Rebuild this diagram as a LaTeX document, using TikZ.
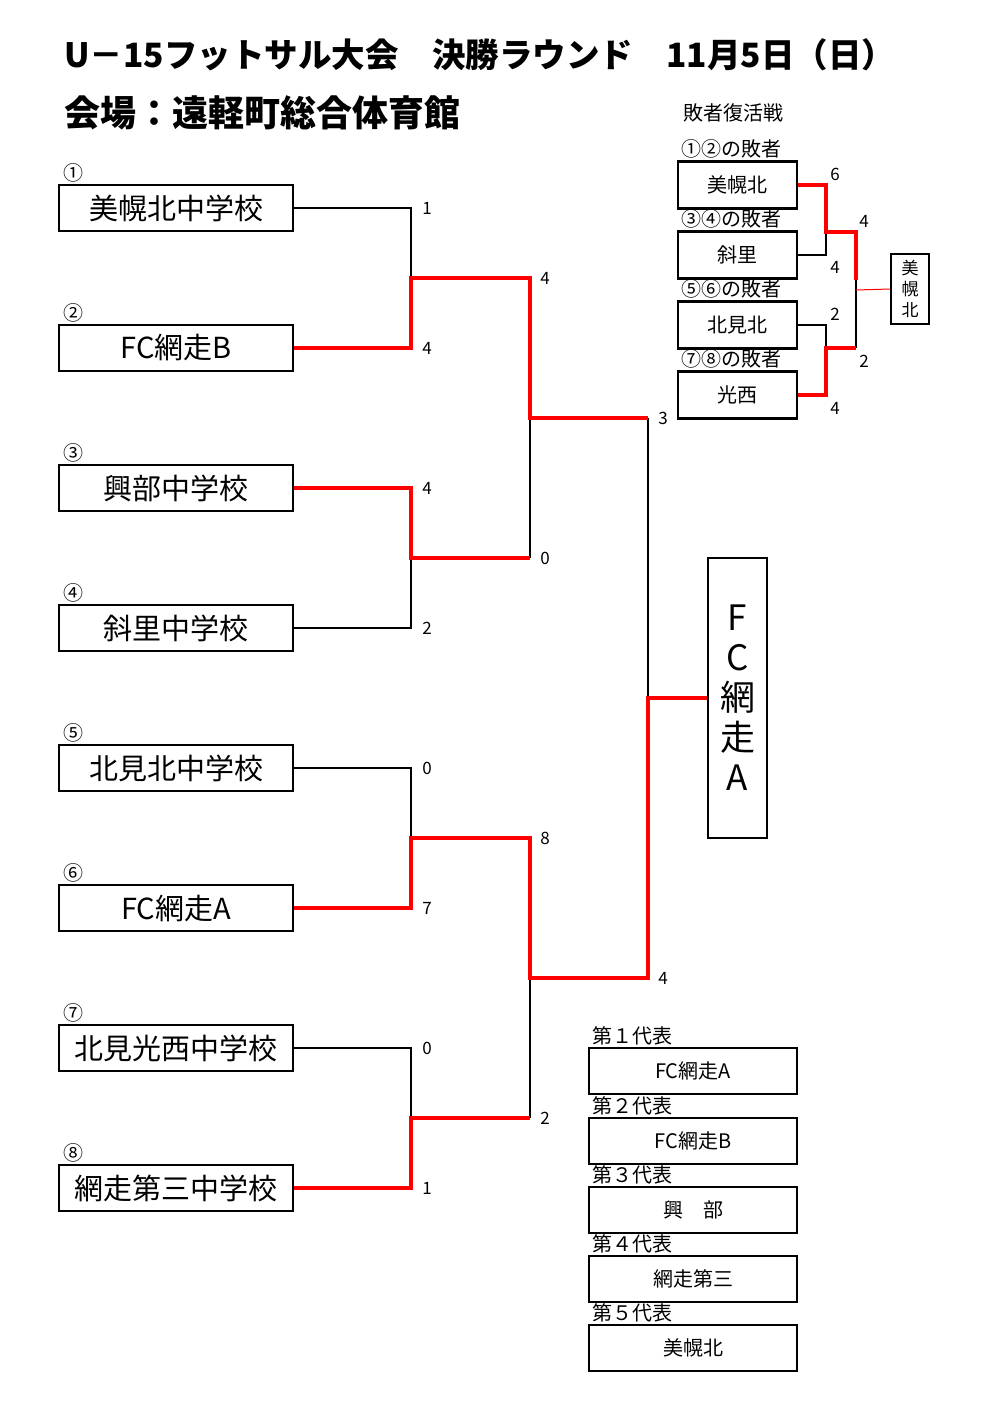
\documentclass[tikz,border=0pt]{standalone}
\usepackage{fontspec}
\usepackage{xcolor}
\usepackage{tikz}
\usetikzlibrary{calc, arrows.meta, shapes, positioning}
\setmainfont{Noto Sans CJK JP}
\newcommand{\fs}[1]{\fontsize{#1pt}{#1pt}\selectfont}
\definecolor{winred}{RGB}{255,0,0}

\begin{document}
\begin{tikzpicture}[x=1pt, y=-1pt,
	school/.style={draw, line width=2.2pt, minimum width=234pt, minimum height=46pt, inner sep=0pt, font=\fs{29}},
	smallbox/.style={draw, line width=2.2pt, minimum width=119pt, minimum height=47pt, inner sep=0pt, font=\fs{20}},
	repbox/.style={draw, line width=2.2pt, minimum width=208pt, minimum height=46pt, inner sep=0pt, font=\fs{20}},
	lbl/.style={inner sep=0pt, anchor=west, font=\fs{20}},
	score/.style={inner sep=0pt, font=\fs{17}},
	loseline/.style={line width=2pt, draw=black},
	winline/.style={line width=3.5pt, draw=winred}]
	\useasboundingbox (0,0) rectangle (980,1407);
	\node[anchor=west, inner sep=0pt, font=\bfseries\fs{33.5}] (title) at (64,55) {U－15フットサル大会　決勝ラウンド　11月5日（日）};
	\node[anchor=west, inner sep=0pt, font=\bfseries\fs{36}] (venue) at (64,113) {会場：遠軽町総合体育館};
	\foreach \index/\cnum/\name in {1/①/美幌北中学校, 2/②/FC網走B, 3/③/興部中学校, 4/④/斜里中学校, 5/⑤/北見北中学校, 6/⑥/FC網走A, 7/⑦/北見光西中学校, 8/⑧/網走第三中学校}{
		\node[school] (s\index) at (176, 68+140*\index) {\name};
		\node[inner sep=0pt, font=\fs{20}] (c\index) at (73, 33+140*\index) {\cnum};
	};
	\foreach \i/\y in {1/278, 2/558, 3/838, 4/1118}{
		\coordinate (v\i) at (411,\y);
		\coordinate (q\i) at (530,\y);
	};
	\coordinate (r1) at (530,418);
	\coordinate (h1) at (648,418);
	\coordinate (r2) at (530,978);
	\coordinate (h2) at (648,978);
	\coordinate (fc) at (648,698);
	\node[draw, line width=2.2pt, minimum width=59pt, minimum height=280pt, inner sep=0pt, align=center, font=\fontsize{35pt}{40pt}\selectfont] (champ) at (737.5,698) {F\\C\\網\\走\\A};
	\foreach \l/\i in {1/1, 4/2, 5/3, 7/4}{
		\draw[loseline] (s\l.east) -| (v\i);
	};
	\draw[loseline] (q2) -- (r1);
	\draw[loseline] (q4) -- (r2);
	\draw[loseline] (h1) -- (fc);
	\draw[winline] (s2.east) -| (v1) -- (q1) -- (r1) -- (h1);
	\draw[winline] (s3.east) -| (v2) -- (q2);
	\draw[winline] (s6.east) -| (v3) -- (q3) -- (r2) -- (h2) -- (fc) -- (champ.west);
	\draw[winline] (s8.east) -| (v4) -- (q4);
	\foreach \i/\x/\y/\s in {1/427/208/1, 2/427/348/4, 3/427/488/4, 4/427/628/2, 5/427/768/0, 6/427/908/7, 7/427/1048/0, 8/427/1188/1, 9/545/278/4, 10/545/558/0, 11/545/838/8, 12/545/1118/2, 13/663/418/3, 14/663/978/4}{
		\node[score] (p\i) at (\x,\y) {\s};
	};
	\node[lbl] (rep) at (683,113) {敗者復活戦};
	\foreach \i/\y/\who/\pair in {1/185/美幌北/①②, 2/255/斜里/③④, 3/325/北見北/⑤⑥, 4/395/光西/⑦⑧}{
		\node[smallbox] (l\i) at (737.5,\y) {\who};
		\node[lbl] (lt\i) at (681,\y-36) {\pair の敗者};
	};
	\node[draw, line width=2pt, minimum width=38pt, minimum height=70pt, inner sep=0pt, align=center, font=\fontsize{17pt}{21pt}\selectfont] (lw) at (910,289) {美\\幌\\北};
	\coordinate (lv1) at (826,232);
	\coordinate (lq1) at (856,232);
	\coordinate (lv2) at (826,348);
	\coordinate (lq2) at (856,348);
	\coordinate (lc) at (856,290);
	\coordinate (lr) at (856,280);
	\draw[loseline] (l2.east) -| (lv1);
	\draw[loseline] (l3.east) -| (lv2);
	\draw[loseline] (lq2) -- (lr);
	\draw[winline] (l1.east) -| (lv1) -- (lq1) -- (lr);
	\draw[winline] (l4.east) -| (lv2) -- (lq2);
	\draw[line width=1pt, draw=winred] (lc) -- (lw.west);
	\foreach \i/\x/\y/\s in {15/835/174/6, 16/835/267/4, 17/835/314/2, 18/835/408/4, 19/864/221/4, 20/864/361/2}{
		\node[score] (p\i) at (\x,\y) {\s};
	};
	\foreach \i/\y/\who/\rank in {1/1071/FC網走A/１, 2/1141/FC網走B/２, 3/1210/興　部/３, 4/1279/網走第三/４, 5/1348/美幌北/５}{
		\node[repbox] (d\i) at (693,\y) {\who};
		\node[lbl] (dt\i) at (592,\y-35) {第\rank 代表};
	};
\end{tikzpicture}
\end{document}
